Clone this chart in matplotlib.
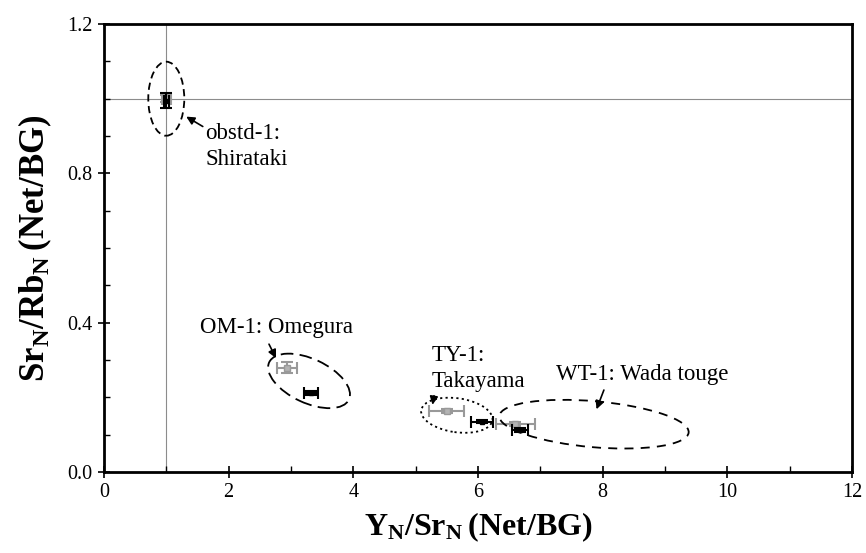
import matplotlib
matplotlib.use("Agg")
import matplotlib.pyplot as plt
from matplotlib.patches import Ellipse
from matplotlib.ticker import MultipleLocator
import matplotlib.transforms as mtransforms

plt.rcParams['font.family'] = 'Liberation Serif'
plt.rcParams['mathtext.fontset'] = 'custom'
plt.rcParams['mathtext.rm'] = 'Liberation Serif'
plt.rcParams['mathtext.bf'] = 'Liberation Serif:bold'

# Net/BG ratios per sample: grey = first measurement, black = second
samples = ['obstd-1', 'OM-1', 'TY-1', 'WT-1']
grey_x = [1.00, 2.94, 5.50, 6.60]
grey_xerr = [0.07, 0.16, 0.28, 0.31]
grey_y = [1.000, 0.279, 0.163, 0.129]
grey_yerr = [0.010, 0.015, 0.006, 0.006]
black_x = [1.00, 3.32, 6.06, 6.67]
black_xerr = [0.04, 0.11, 0.18, 0.13]
black_y = [0.995, 0.212, 0.134, 0.113]
black_yerr = [0.020, 0.005, 0.004, 0.005]

fig = plt.figure(figsize=(8.66, 5.53), dpi=100)
ax = fig.add_axes([0.120, 0.1465, 0.864, 0.810])

ax.axvline(1.0, color='0.55', lw=0.8, zorder=1)
ax.axhline(1.0, color='0.55', lw=0.8, zorder=1)

ax.errorbar(grey_x, grey_y, xerr=grey_xerr, yerr=grey_yerr, fmt='s', ms=4,
            color='0.6', ecolor='0.6', capsize=4, elinewidth=1.5, capthick=1.5,
            mfc='0.7', mec='0.6', zorder=3)
ax.errorbar(black_x, black_y, xerr=black_xerr, yerr=black_yerr, fmt='s', ms=3,
            color='black', ecolor='black', capsize=4, elinewidth=1.5, capthick=1.5,
            zorder=4)


def ring(cx, cy, w, h, angle, ls):
    # ellipse sized in pixels, centred on a data point
    tr = mtransforms.Affine2D() + mtransforms.ScaledTranslation(cx, cy, ax.transData)
    e = Ellipse((0, 0), w, h, angle=angle, fill=False, ec='black', lw=1.3,
                ls=ls, transform=tr, zorder=5)
    ax.add_patch(e)


ring(1.0, 1.0, 36, 74, 0, (0, (4, 2.5)))
ring(3.29, 0.244, 88, 44, -25, (0, (7, 3.5)))
ring(5.66, 0.152, 72, 34, -8, (0, (1.2, 1.8)))
ring(7.86, 0.128, 190, 46, -5, (0, (5, 4)))

arrow = dict(arrowstyle='-|>', color='black', lw=1.2, mutation_scale=12)
fs = 16.5
ax.annotate('obstd-1:\nShirataki', xy=(1.32, 0.952), xytext=(1.63, 0.871),
            fontsize=fs, ha='left', va='center', linespacing=1.3,
            arrowprops=dict(arrow, shrinkA=0, shrinkB=0, relpos=(0.0, 0.9)))
ax.annotate('OM-1: Omegura', xy=(2.76, 0.305), xytext=(1.54, 0.388),
            fontsize=fs, ha='left', va='center',
            arrowprops=dict(arrow, shrinkA=3, shrinkB=0, relpos=(0.43, 0.0)))
ax.annotate('TY-1:\nTakayama', xy=(5.27, 0.18), xytext=(5.26, 0.278),
            fontsize=fs, ha='left', va='center', linespacing=1.3,
            arrowprops=dict(arrow, shrinkA=1, shrinkB=0, relpos=(0.03, 0.0)))
ax.annotate('WT-1: Wada touge', xy=(7.9, 0.168), xytext=(7.25, 0.262),
            fontsize=fs, ha='left', va='center',
            arrowprops=dict(arrow, shrinkA=2, shrinkB=0, relpos=(0.29, 0.0)))

ax.set_xlim(0, 12)
ax.set_ylim(0, 1.2)
ax.xaxis.set_major_locator(MultipleLocator(2))
ax.xaxis.set_minor_locator(MultipleLocator(1))
ax.yaxis.set_major_locator(MultipleLocator(0.4))
ax.yaxis.set_minor_locator(MultipleLocator(0.1))
ax.yaxis.set_major_formatter(plt.FuncFormatter(lambda v, p: f'{v:.1f}'))
ax.tick_params(which='major', direction='inout', length=9, width=1.2, labelsize=14.5)
ax.tick_params(which='minor', direction='in', length=4, width=1.0)
ax.tick_params(top=False, right=False)
for s in ax.spines.values():
    s.set_linewidth(2)

ax.set_xlabel(r'$\mathbf{Y_{N}/Sr_{N}\,(Net/BG)}$', fontsize=23, labelpad=6)
ax.set_ylabel(r'$\mathbf{Sr_{N}/Rb_{N}\,(Net/BG)}$', fontsize=25, labelpad=10)

fig.savefig('out.png', dpi=100)
